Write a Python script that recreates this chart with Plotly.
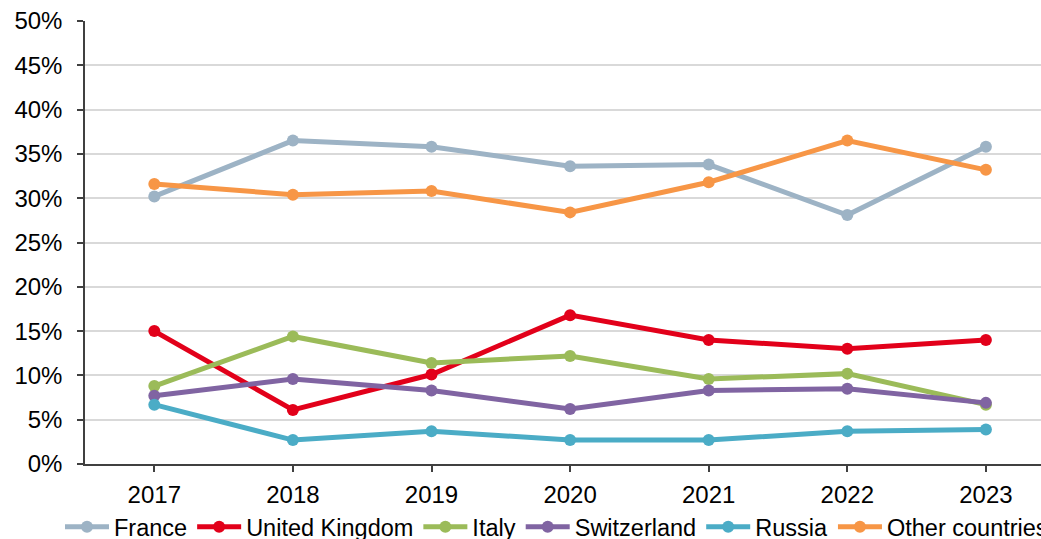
import plotly.graph_objects as go

years = ["2017", "2018", "2019", "2020", "2021", "2022", "2023"]
france = [30.2, 36.5, 35.8, 33.6, 33.8, 28.1, 35.8]
uk = [15.0, 6.1, 10.1, 16.8, 14.0, 13.0, 14.0]
italy = [8.8, 14.4, 11.4, 12.2, 9.6, 10.2, 6.7]
switzerland = [7.7, 9.6, 8.3, 6.2, 8.3, 8.5, 6.9]
russia = [6.7, 2.7, 3.7, 2.7, 2.7, 3.7, 3.9]
other = [31.6, 30.4, 30.8, 28.4, 31.8, 36.5, 33.2]

series = [
    ("France", france, "#9DB3C5"),
    ("United Kingdom", uk, "#E2001A"),
    ("Italy", italy, "#9BBB59"),
    ("Switzerland", switzerland, "#8064A2"),
    ("Russia", russia, "#4BACC6"),
    ("Other countries", other, "#F79646"),
]

fig = go.Figure()
for name, vals, col in series:
    fig.add_trace(go.Scatter(
        x=years, y=vals, name=name, mode="lines+markers",
        line=dict(color=col, width=5),
        marker=dict(color=col, size=12),
    ))

W, H = 1041, 539
L, R, T, B = 85, 0, 21, 75
PW = W - L - R
PH = H - T - B
step = 138.6
fig.update_layout(
    width=W, height=H,
    margin=dict(l=L, r=R, t=T, b=B, autoexpand=False),
    plot_bgcolor="white", paper_bgcolor="white",
    font=dict(family="Liberation Sans, Arial, sans-serif", color="#000000", size=22),
    showlegend=True,
    legend=dict(
        orientation="h", x=-25 / PW, xanchor="left",
        y=-63 / PH, yanchor="middle",
        font=dict(size=23.5), itemwidth=44, tracegroupgap=0,
        bgcolor="rgba(0,0,0,0)",
    ),
    xaxis=dict(
        type="category", range=[-0.5, -0.5 + PW / step],
        showline=True, linecolor="#404040", linewidth=1.5,
        ticks="outside", ticklen=6, tickcolor="#404040", tickwidth=1.5,
        showgrid=False, tickfont=dict(size=24), ticklabelstandoff=2,
    ),
    yaxis=dict(
        range=[0, 50], tickvals=[0, 5, 10, 15, 20, 25, 30, 35, 40, 45, 50],
        ticktext=[f"{v}%" for v in range(0, 55, 5)],
        showline=True, linecolor="#404040", linewidth=1.5,
        ticks="outside", ticklen=6, tickcolor="#404040", tickwidth=1.5,
        showgrid=True, gridcolor="#D9D9D9", gridwidth=1.5,
        zeroline=False, tickfont=dict(size=24), ticklabelstandoff=10,
        ticklabeloverflow="allow",
    ),
)
fig.write_html(
    "out.html",
    config={"displayModeBar": False},
    post_script="document.body.style.margin='0';document.body.style.overflow='hidden';",
)
